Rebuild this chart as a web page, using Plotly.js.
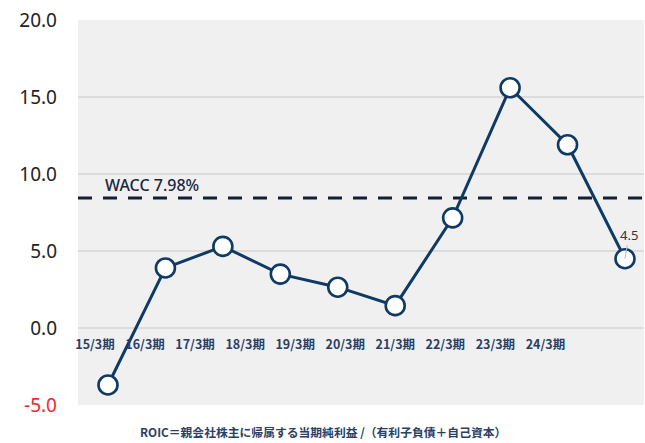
<!DOCTYPE html>
<html>
<head>
<meta charset="utf-8">
<script src="https://cdn.plot.ly/plotly-3.0.1.min.js"></script>
<style>html,body{margin:0;padding:0;background:#fff}#chart{width:645px;height:443px}</style>
</head>
<body>
<div id="chart"></div>
<script>
const categories = ["15/3期","16/3期","17/3期","18/3期","19/3期","20/3期","21/3期","22/3期","23/3期","24/3期"];
const roic = [-3.7, 3.9, 5.3, 3.5, 2.65, 1.45, 7.15, 15.6, 11.9, 4.5];
const waccLevel = 8.44;
const waccLabel = "WACC 7.98%";
const yTickVals = [-5, 0, 5, 10, 15, 20];
const yTickText = ['<span style="color:#f0282d">-5.0</span>', "0.0", "5.0", "10.0", "15.0", "20.0"];
const lastLabel = "4.5";
const footnote = "ROIC＝親会社株主に帰属する当期純利益 /（有利子負債＋自己資本）";

const navy = "#0e3a64";
const jp = '"Noto Sans CJK JP", "Noto Sans", sans-serif';

const traces = [
  {
    x: categories, y: roic, type: "scatter", mode: "lines+markers",
    line: {color: navy, width: 3},
    marker: {size: 19, color: "#ffffff", line: {color: navy, width: 2.6}},
    cliponaxis: false, hoverinfo: "skip", showlegend: false
  },
  {
    x: categories, y: categories.map(() => null), xaxis: "x2", yaxis: "y",
    type: "scatter", mode: "markers", showlegend: false, hoverinfo: "skip"
  }
];

const layout = {
  width: 645, height: 443,
  margin: {l: 78, r: 1, t: 20, b: 38},
  paper_bgcolor: "#ffffff",
  plot_bgcolor: "#f0f0f0",
  font: {family: jp, color: "#222"},
  showlegend: false,
  xaxis: {
    type: "category", range: [-0.522, 9.331],
    showticklabels: false, showgrid: false, zeroline: false, showline: false, ticks: ""
  },
  xaxis2: {
    type: "category", overlaying: "x", anchor: "free", position: 0.18, side: "bottom",
    range: [-0.34, 10.97], showgrid: false, zeroline: false, showline: false, ticks: "",
    tickfont: {family: jp, size: 12.5, color: "#2b3f66", weight: 600}
  },
  yaxis: {
    range: [-5, 20], tickvals: yTickVals, ticktext: yTickText,
    showgrid: true, gridcolor: "#dcdcdc", gridwidth: 1.5,
    zeroline: false, showline: false, ticks: "",
    ticklabelstandoff: 20,
    tickfont: {family: '"Noto Sans", sans-serif', size: 19, color: "#222"}
  },
  shapes: [
    {type: "line", xref: "paper", x0: 0, x1: 1, yref: "y", y0: waccLevel, y1: waccLevel,
     line: {color: "#141e36", width: 3, dash: "14px,11px"}, layer: "below"}
  ],
  annotations: [
    {x: -0.08, y: 9.3, xref: "x", yref: "y", text: waccLabel, showarrow: false,
     xanchor: "left", yanchor: "middle", font: {family: '"Noto Sans", sans-serif', size: 16, color: "#1a2540", weight: 500}},
    {x: categories[9], y: roic[9], xref: "x", yref: "y", text: lastLabel, showarrow: true,
     arrowhead: 0, arrowwidth: 1, arrowcolor: "#b8b8b8", ax: 4, ay: -24, standoff: 0,
     font: {family: '"Noto Sans", sans-serif', size: 13, color: "#333"}},
    {x: 0.432, y: -0.07, xref: "paper", yref: "paper", text: footnote, showarrow: false,
     xanchor: "center", yanchor: "middle", font: {family: jp, size: 11.8, color: "#2b3f66", weight: 600}}
  ]
};

Plotly.newPlot("chart", traces, layout, {displayModeBar: false, staticPlot: true});
</script>
</body>
</html>
